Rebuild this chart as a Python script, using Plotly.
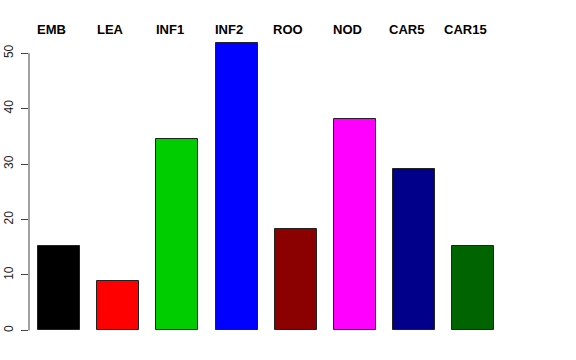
import plotly.graph_objects as go

categories = ["EMB", "LEA", "INF1", "INF2", "ROO", "NOD", "CAR5", "CAR15"]
values = [15.2, 8.9, 34.6, 51.9, 18.3, 38.2, 29.1, 15.2]
colors = ["#000000", "#FF0000", "#00CD00", "#0000FF", "#8B0000", "#FF00FF", "#00008B", "#006400"]
ytick_vals = [0, 10, 20, 30, 40, 50]

xs = list(range(len(categories)))

fig = go.Figure()
fig.add_trace(go.Bar(
    x=xs, y=values, width=0.71,
    marker=dict(color=colors, line=dict(color="#222222", width=1)),
    showlegend=False, hoverinfo="skip",
))

for i, c in enumerate(categories):
    fig.add_annotation(x=i - 0.127, y=1, xref="x", yref="paper",
                       text="<b>%s</b>" % c, showarrow=False,
                       yanchor="middle", yshift=2,
                       font=dict(family="Liberation Sans, Arial", size=13, color="#000000"))

fig.add_shape(type="line", xref="paper", yref="y", x0=0, x1=0, y0=0, y1=50,
              line=dict(color="#444444", width=1))

fig.update_layout(
    width=576, height=360,
    margin=dict(l=29, r=57, t=31, b=27, autoexpand=False),
    paper_bgcolor="white", plot_bgcolor="white",
    bargap=0,
    xaxis=dict(range=[-0.507, 7.77], showticklabels=False, showline=False,
               showgrid=False, zeroline=False, ticks="", automargin=False),
    yaxis=dict(range=[-0.47, 54], tickvals=ytick_vals, ticktext=[str(v) for v in ytick_vals],
               tickangle=-90, ticks="outside", ticklen=7, tickcolor="#444444",
               ticklabelstandoff=3,
               showline=False, showgrid=False, zeroline=False, automargin=False,
               tickfont=dict(family="Liberation Sans, Arial", size=12, color="#222222")),
    font=dict(family="Liberation Sans, Arial"),
)

fig.write_html("out.html", config={"displayModeBar": False},
               post_script="document.body.style.margin='0px';document.body.style.overflow='hidden';")
